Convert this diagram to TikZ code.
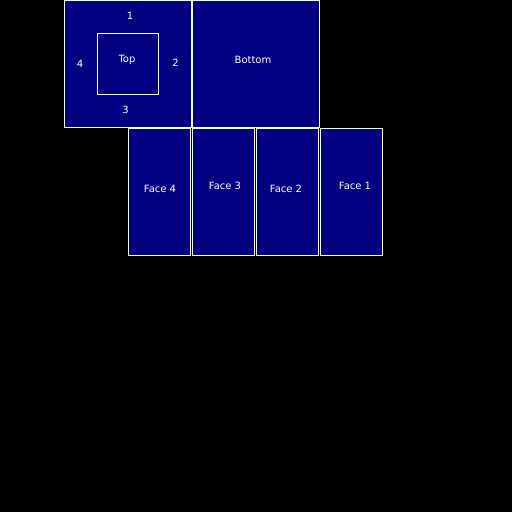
\documentclass[tikz,border=0pt]{standalone}
\usepackage{fontspec}
\setmainfont{DejaVu Sans}
\definecolor{panelblue}{RGB}{0,0,128}
\begin{document}
\begin{tikzpicture}[x=1pt,y=-1pt,
  panel/.style={draw=white, fill=panelblue, line width=1pt, inner sep=0pt, rectangle},
  lbl/.style={text=white, font=\fontsize{10}{12}\selectfont, inner sep=0pt}]
\fill[black] (0,0) rectangle (512,512);
\useasboundingbox (0,0) rectangle (512,512);
% top panel
\node[panel, minimum width=127pt, minimum height=127pt] (toppanel) at (128,64) {};
\node[panel, minimum width=61pt, minimum height=61pt] (topinner) at (128,64) {};
\node[panel, minimum width=127pt, minimum height=127pt] (bottompanel) at (256,64) {};
% faces
\node[panel, minimum width=62pt, minimum height=127pt] (face4) at (159.5,192) {};
\node[panel, minimum width=62pt, minimum height=127pt] (face3) at (223.5,192) {};
\node[panel, minimum width=62pt, minimum height=127pt] (face2) at (287.5,192) {};
\node[panel, minimum width=62pt, minimum height=127pt] (face1) at (351.5,192) {};
% labels
\node[lbl] (l1) at (130,16) {1};
\node[lbl] (l4) at (80,64) {4};
\node[lbl] (l2) at (175.5,63) {2};
\node[lbl] (l3) at (125.5,110) {3};
\node[lbl] (ltop) at (127,60) {Top};
\node[lbl] (lbottom) at (253,60) {Bottom};
\node[lbl] (lf4) at (160,189) {Face 4};
\node[lbl] (lf3) at (225,186) {Face 3};
\node[lbl] (lf2) at (286,189) {Face 2};
\node[lbl] (lf1) at (355,186) {Face 1};
\end{tikzpicture}
\end{document}
